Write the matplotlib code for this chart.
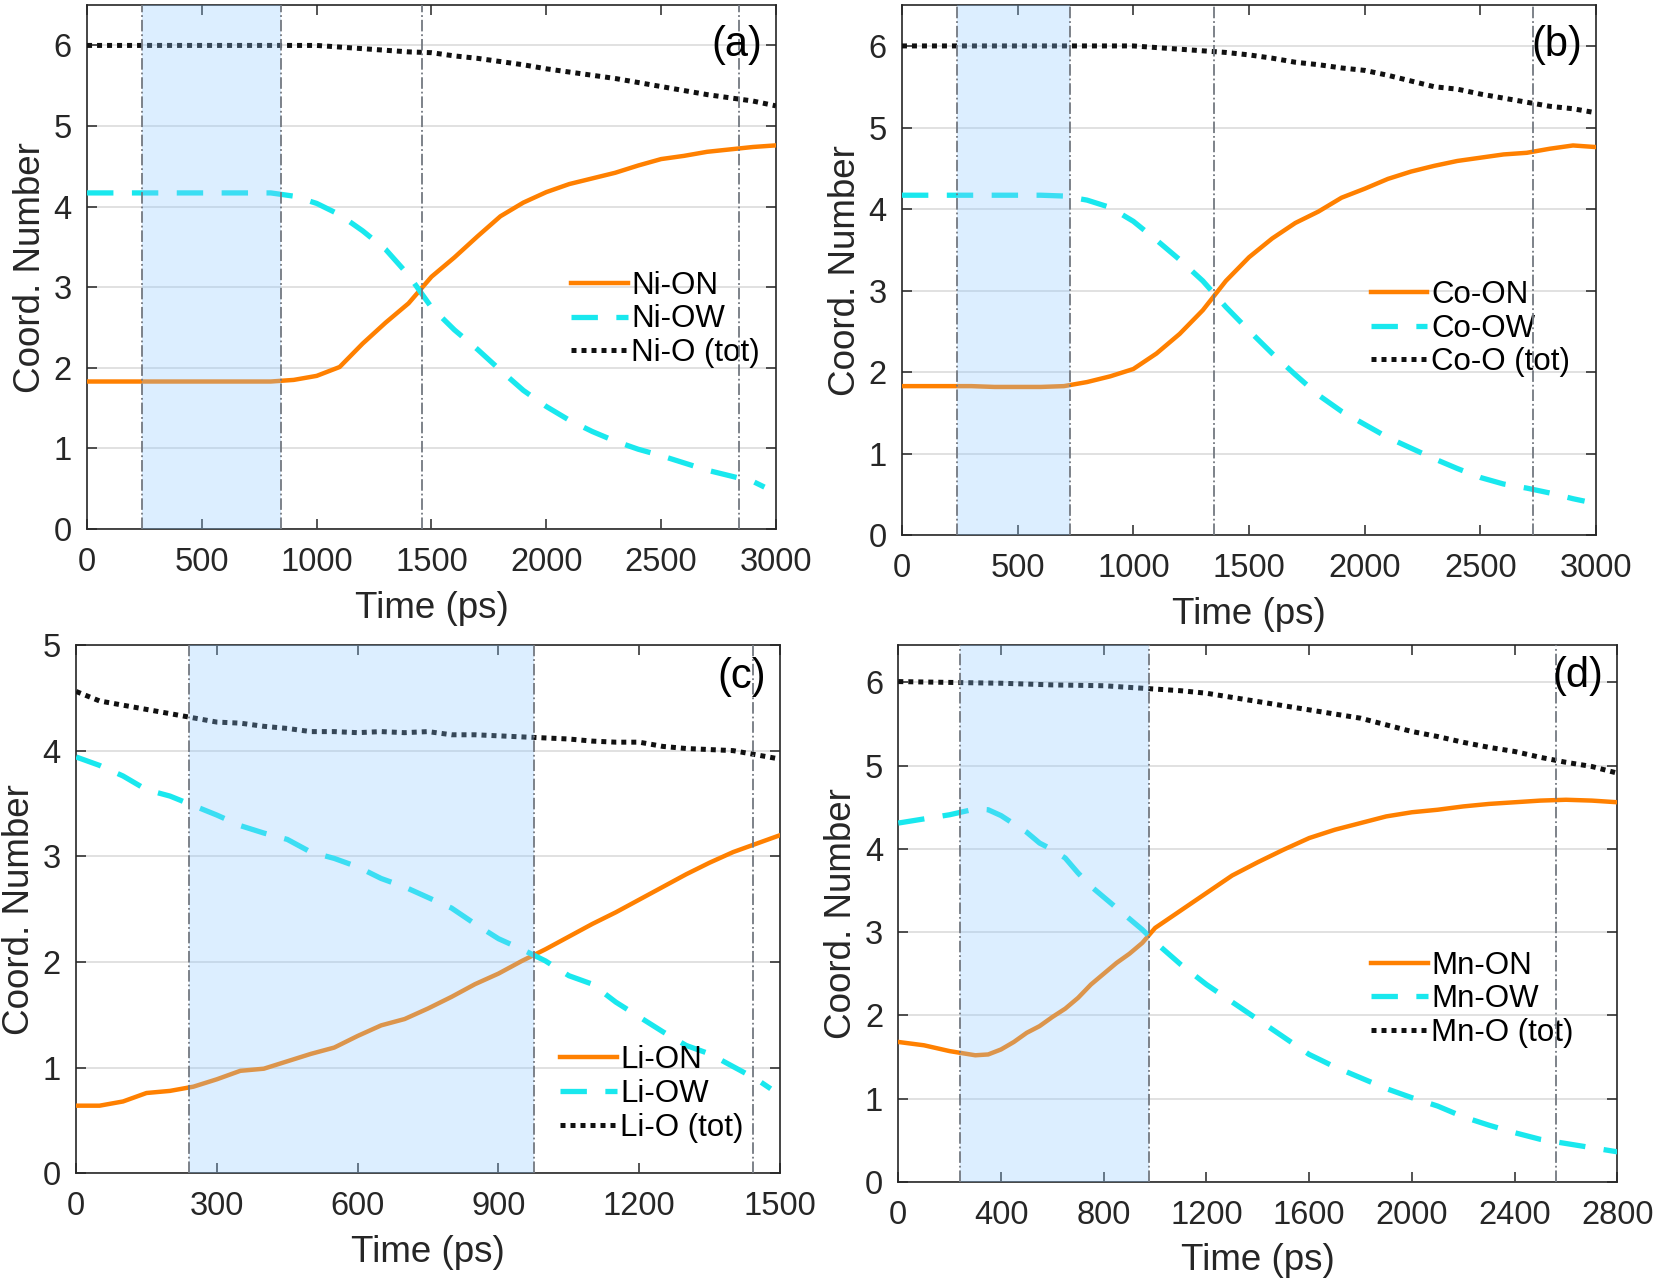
import matplotlib
matplotlib.use("Agg")
import matplotlib.pyplot as plt

plt.rcParams["font.family"] = ["Liberation Sans", "DejaVu Sans"]

FONT_TICK = 23.5
FONT_LABEL = 26.5
FONT_LEG = 22.5
FONT_PANEL = 30
TXT = "#262626"

C_ON = "#ff8000"
C_OW = "#19e8ee"
C_TOT = "#111111"

# ---- (a) Ni ----
t_a = [0, 100, 200, 300, 400, 500, 600, 700, 800, 900, 1000, 1100, 1200, 1300, 1400, 1500,
       1600, 1700, 1800, 1900, 2000, 2100, 2200, 2300, 2400, 2500, 2600, 2700, 2800, 2900, 3000]
ni_on = [1.83, 1.83, 1.83, 1.83, 1.83, 1.83, 1.83, 1.83, 1.83, 1.85, 1.90, 2.01, 2.30, 2.56,
         2.80, 3.13, 3.37, 3.63, 3.88, 4.05, 4.18, 4.28, 4.35, 4.42, 4.51, 4.59, 4.63, 4.68,
         4.71, 4.74, 4.76]
t_a_ow = [0, 100, 200, 300, 400, 500, 600, 700, 800, 900, 1000, 1100, 1200, 1300, 1400, 1500,
          1600, 1700, 1800, 1900, 2000, 2100, 2200, 2300, 2400, 2500, 2600, 2700, 2800, 2900, 2950]
ni_ow = [4.17, 4.17, 4.17, 4.17, 4.17, 4.17, 4.17, 4.17, 4.17, 4.13, 4.04, 3.90, 3.70, 3.47,
         3.15, 2.75, 2.47, 2.23, 1.97, 1.72, 1.52, 1.35, 1.21, 1.09, 0.99, 0.91, 0.82, 0.73,
         0.66, 0.59, 0.52]
ni_tot = [6.00, 6.00, 6.00, 6.00, 6.00, 6.00, 6.00, 6.00, 6.00, 6.00, 6.00, 5.98, 5.96, 5.94,
          5.92, 5.91, 5.87, 5.84, 5.80, 5.76, 5.71, 5.67, 5.63, 5.59, 5.54, 5.49, 5.44, 5.39,
          5.35, 5.31, 5.25]
vlines_a = [240, 845, 1460, 2840]

# ---- (b) Co ----
t_b = t_a
co_on = [1.83, 1.83, 1.83, 1.83, 1.82, 1.82, 1.82, 1.83, 1.88, 1.95, 2.04, 2.23, 2.47, 2.76,
         3.12, 3.41, 3.64, 3.83, 3.97, 4.14, 4.25, 4.37, 4.46, 4.53, 4.59, 4.63, 4.67, 4.69,
         4.74, 4.78, 4.76]
t_b_ow = t_a_ow
co_ow = [4.17, 4.17, 4.17, 4.17, 4.17, 4.17, 4.17, 4.16, 4.11, 4.02, 3.85, 3.62, 3.38, 3.12,
         2.80, 2.51, 2.23, 1.97, 1.72, 1.52, 1.36, 1.20, 1.07, 0.94, 0.82, 0.71, 0.63, 0.58,
         0.52, 0.45, 0.42]
co_tot = [6.00, 6.00, 6.00, 6.00, 6.00, 6.00, 6.00, 6.00, 6.00, 6.00, 6.00, 5.98, 5.96, 5.94,
          5.92, 5.89, 5.85, 5.80, 5.77, 5.73, 5.70, 5.64, 5.57, 5.50, 5.47, 5.41, 5.36, 5.31,
          5.26, 5.23, 5.18]
vlines_b = [240, 725, 1350, 2725]

# ---- (c) Li ----
t_c = [0, 50, 100, 150, 200, 250, 300, 350, 400, 450, 500, 550, 600, 650, 700, 750, 800, 850,
       900, 950, 1000, 1050, 1100, 1150, 1200, 1250, 1300, 1350, 1400, 1450, 1500]
li_on = [0.64, 0.64, 0.68, 0.76, 0.78, 0.82, 0.89, 0.97, 0.99, 1.06, 1.13, 1.19, 1.30, 1.40,
         1.46, 1.56, 1.67, 1.79, 1.89, 2.01, 2.12, 2.24, 2.36, 2.47, 2.59, 2.71, 2.83, 2.94,
         3.04, 3.12, 3.20]
t_c_ow = [0, 50, 100, 150, 200, 250, 300, 350, 400, 450, 500, 550, 600, 650, 700, 750, 800,
          850, 900, 950, 1000, 1050, 1100, 1150, 1200, 1250, 1300, 1350, 1400, 1450, 1480]
li_ow = [3.94, 3.86, 3.76, 3.63, 3.57, 3.48, 3.39, 3.29, 3.22, 3.16, 3.04, 2.98, 2.90, 2.79,
         2.71, 2.61, 2.51, 2.36, 2.22, 2.12, 2.01, 1.87, 1.79, 1.62, 1.48, 1.34, 1.21, 1.13,
         1.01, 0.89, 0.80]
li_tot = [4.56, 4.47, 4.43, 4.39, 4.35, 4.31, 4.27, 4.26, 4.23, 4.21, 4.18, 4.18, 4.17, 4.18,
          4.17, 4.18, 4.15, 4.15, 4.14, 4.13, 4.12, 4.11, 4.09, 4.08, 4.08, 4.04, 4.02, 4.01,
          4.00, 3.96, 3.92]
vlines_c = [240, 975, 1442]

# ---- (d) Mn ----
t_d = [0, 100, 200, 300, 350, 400, 450, 500, 550, 600, 650, 700, 750, 800, 850, 900, 950,
       1000, 1100, 1200, 1300, 1400, 1500, 1600, 1700, 1800, 1900, 2000, 2100, 2200, 2300,
       2400, 2500, 2600, 2700, 2800]
mn_on = [1.68, 1.64, 1.57, 1.52, 1.53, 1.59, 1.68, 1.79, 1.87, 1.98, 2.08, 2.21, 2.37, 2.50,
         2.63, 2.74, 2.87, 3.05, 3.26, 3.47, 3.68, 3.84, 3.99, 4.13, 4.23, 4.31, 4.39, 4.44,
         4.47, 4.51, 4.54, 4.56, 4.58, 4.59, 4.58, 4.56]
mn_ow = [4.31, 4.36, 4.41, 4.48, 4.47, 4.40, 4.30, 4.20, 4.07, 3.99, 3.89, 3.71, 3.55, 3.42,
         3.29, 3.16, 3.03, 2.88, 2.61, 2.37, 2.16, 1.95, 1.74, 1.53, 1.38, 1.25, 1.12, 1.01,
         0.91, 0.78, 0.68, 0.59, 0.51, 0.46, 0.41, 0.36]
t_d_tot = [0, 200, 400, 600, 800, 1000, 1100, 1200, 1300, 1400, 1500, 1600, 1700, 1800,
           1900, 2000, 2100, 2200, 2300, 2400, 2500, 2600, 2700, 2800]
mn_tot = [6.01, 6.00, 5.99, 5.97, 5.96, 5.92, 5.90, 5.87, 5.82, 5.77, 5.72, 5.67, 5.62, 5.57,
          5.49, 5.41, 5.35, 5.28, 5.22, 5.17, 5.10, 5.04, 4.99, 4.91]
vlines_d = [240, 977, 2560]

panels = [
    dict(rect=[0.0525, 0.588, 0.4155, 0.408], el="Ni", tag="(a)",
         on=(t_a, ni_on), ow=(t_a_ow, ni_ow), tot=(t_a, ni_tot), vl=vlines_a,
         xlim=3000, xticks=[0, 500, 1000, 1500, 2000, 2500, 3000], ylim=6.5,
         leg=(0.703, 0.40), tagy=0.924),
    dict(rect=[0.544, 0.583, 0.4187, 0.413], el="Co", tag="(b)",
         on=(t_b, co_on), ow=(t_b_ow, co_ow), tot=(t_b, co_tot), vl=vlines_b,
         xlim=3000, xticks=[0, 500, 1000, 1500, 2000, 2500, 3000], ylim=6.5,
         leg=(0.676, 0.39), tagy=0.924),
    dict(rect=[0.0459, 0.0862, 0.4246, 0.4115], el="Li", tag="(c)",
         on=(t_c, li_on), ow=(t_c_ow, li_ow), tot=(t_c, li_tot), vl=vlines_c,
         xlim=1500, xticks=[0, 300, 600, 900, 1200, 1500], ylim=5,
         leg=(0.688, 0.15), tagy=0.94),
    dict(rect=[0.5418, 0.0796, 0.4337, 0.4181], el="Mn", tag="(d)",
         on=(t_d, mn_on), ow=(t_d, mn_ow), tot=(t_d_tot, mn_tot), vl=vlines_d,
         xlim=2800, xticks=[0, 400, 800, 1200, 1600, 2000, 2400, 2800], ylim=6.45,
         leg=(0.658, 0.34), tagy=0.942),
]

fig = plt.figure(figsize=(16.58, 12.84), dpi=100)

for p in panels:
    ax = fig.add_axes(p["rect"])
    el = p["el"]
    ax.plot(*p["on"], color=C_ON, lw=3.2, label=f"{el}-ON", zorder=4)
    ax.plot(*p["ow"], color=C_OW, lw=3.8, linestyle=(0, (5, 3.5)), label=f"{el}-OW", zorder=4)
    ax.plot(*p["tot"], color=C_TOT, lw=3.6, linestyle=(0, (1, 1)), label=f"{el}-O (tot)",
            zorder=4)

    # shaded window between the first two markers, drawn over the curves
    ax.axvspan(p["vl"][0], p["vl"][1], color="#8cc7ff", alpha=0.3, lw=0, zorder=5)
    for xv in p["vl"]:
        ax.axvline(xv, color="#737880", lw=1.3, linestyle="-.", zorder=6)

    ax.set_xlim(0, p["xlim"])
    ax.set_ylim(0, p["ylim"])
    ax.set_xticks(p["xticks"])
    ax.set_yticks(range(0, int(p["ylim"]) + 1))
    ax.yaxis.grid(True, color="#dcdcdc", lw=1.2, zorder=0)
    ax.set_axisbelow(True)

    ax.tick_params(axis="both", which="both", direction="in", length=7, width=1.1,
                   top=True, right=True, labelsize=FONT_TICK, colors=TXT, pad=11)
    ax.tick_params(axis="x", pad=13)
    for s in ax.spines.values():
        s.set_color(TXT)
        s.set_linewidth(1.2)

    ax.set_xlabel("Time (ps)", fontsize=FONT_LABEL, color=TXT, labelpad=9)
    ax.set_ylabel("Coord. Number", fontsize=FONT_LABEL, color=TXT, labelpad=4)

    ax.text(0.98, p["tagy"], p["tag"], transform=ax.transAxes, ha="right", va="center",
            fontsize=FONT_PANEL, color="black", zorder=7)

    ax.legend(loc="center left", bbox_to_anchor=p["leg"], frameon=False, fontsize=FONT_LEG,
              handlelength=1.8, handletextpad=0.12, labelspacing=0.12, borderpad=0,
              borderaxespad=0)

fig.savefig("out.png", dpi=100)
